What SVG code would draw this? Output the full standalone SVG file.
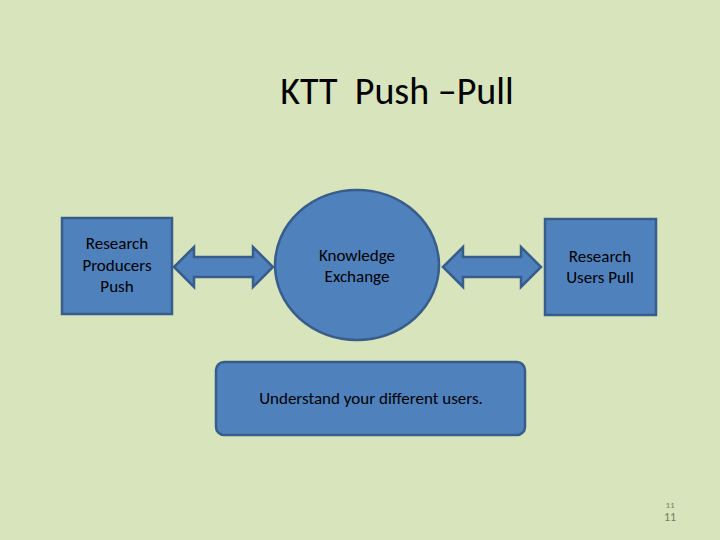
<svg xmlns="http://www.w3.org/2000/svg" width="720" height="540" viewBox="0 0 720 540">
<style>
.s{fill:#4f81bd;stroke:#385d8a;stroke-width:2.5}
text{font-family:Calibri,"Liberation Sans",sans-serif;fill:#000;text-anchor:middle;font-size:17px}
</style>
<rect width="720" height="540" fill="#d8e4bc"/>
<text x="397" y="104" xml:space="preserve" style="font-size:38px">KTT  Push –Pull</text>
<g id="connectors">
<path class="s" d="M174,267 L194,247 L194,257 L253,257 L253,247 L273,267 L253,287 L253,277 L194,277 L194,287 Z"/>
<path class="s" d="M443,267 L463,247 L463,257 L521,257 L521,247 L541,267 L521,287 L521,277 L463,277 L463,287 Z"/>
</g>
<g id="producers"><rect class="s" x="62" y="218" width="110" height="96"/>
<text x="117" y="249">Research</text><text x="117" y="271">Producers</text><text x="117" y="292">Push</text></g>
<g id="exchange"><ellipse class="s" cx="357" cy="265" rx="82" ry="75"/>
<text x="357" y="261">Knowledge</text><text x="357" y="282">Exchange</text></g>
<g id="users"><rect class="s" x="545" y="219" width="111" height="96"/>
<text x="600" y="262">Research</text><text x="600" y="283">Users Pull</text></g>
<g id="understand"><rect class="s" x="216" y="362" width="309" height="73" rx="8"/>
<text x="371" y="404">Understand your different users.</text></g>
<text x="670" y="508" style="font-size:9px;fill:#6f7f5f">11</text>
<text x="670" y="521" style="font-size:12px;fill:#6f7f5f">11</text>
</svg>
